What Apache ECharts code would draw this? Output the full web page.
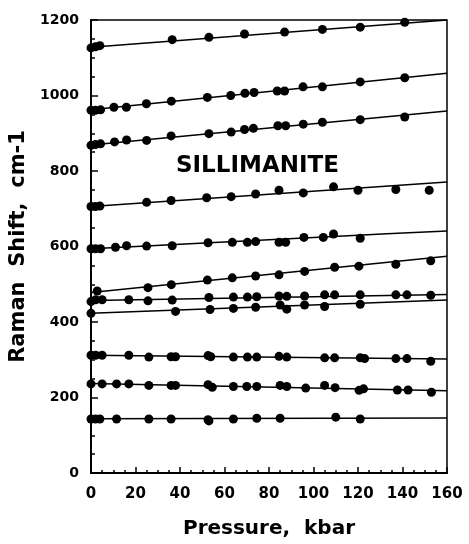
<!DOCTYPE html>
<html>
<head>
<meta charset="utf-8">
<script src="https://cdn.jsdelivr.net/npm/echarts@6/dist/echarts.min.js"></script>
<style>
  html, body { margin: 0; padding: 0; background: #fff; }
  #chart { width: 469px; height: 544px; }
</style>
</head>
<body>
<div id="chart"></div>
<script>
// measured points [pressure kbar, shift cm-1] and fitted curves for each band
const pts1128 = [[0,1126],[2,1129],[4,1132],[36.5,1148],[53,1154],[69,1163],[87,1168],[104,1175],[121,1181],[141,1194]];
const fit1128 = [[0,1128],[160,1200]];

const pts961 = [[0,961],[2,961],[4.3,962],[10.3,969],[15.9,969],[24.9,978],[36.1,985],[52.3,995],[62.8,1000],[69.2,1006],[73.3,1008],[83.7,1012],[87,1012],[95.3,1023],[104,1023],[121,1036],[141,1047]];
const fit961 = [[0,962],[160,1059]];

const pts868 = [[0,868],[2,870],[4.3,872],[10.6,877],[16,882],[25,881],[36,893],[53,899],[63,903],[69,910],[73,913],[84,920],[87.5,920],[95.4,924],[104,929],[121,936],[141,943]];
const fit868 = [[0,869],[160,959]];

const pts708 = [[0,706],[2,706],[4,707],[25,717],[36,722],[52,729],[63,732],[74,739],[84.5,749],[95.4,742],[109,758],[120,749],[137,751],[152,749]];
const fit708 = [[0,706],[160,771]];

const pts593 = [[0,594],[2,594],[4.3,594],[11,598],[16,602],[25,601],[36.5,602],[52.6,610],[63.5,611],[70.3,611],[74,613],[84.5,611],[87.5,611],[95.7,624],[104.4,624],[109,633],[121,622]];
const fit593 = [[0,594],[40,606],[80,618],[120,630],[160,641]];

const pts480 = [[2.8,482],[25.6,491],[36.1,499],[52.3,511],[63.5,517],[74,522],[84.5,525],[96,534],[109.5,545],[120.4,548],[137,553],[152.7,562]];
const fit480 = [[0,478],[160,574]];

const pts456 = [[0,454],[2.1,459],[5,459],[17,459],[25.6,456],[36.5,458],[53,465],[64,466],[70.3,466],[74.5,467],[84.5,469],[88,468],[96,469],[105,472],[109.5,472],[121,472],[137,472],[142,472],[152.7,471]];
const fit456 = [[0,457],[160,473]];

const pts422 = [[0,423],[38,428],[53.5,433],[64,436],[74,439],[85,445],[88,434],[96,445],[105,441],[121,447]];
const fit422 = [[0,423],[160,458]];

const pts310 = [[0,312],[2.1,312],[5,312],[17,312],[26,307],[36,308],[38,308],[52.6,311],[53.8,308],[64,307],[70.3,307],[74.5,307],[84.5,309],[88,307],[105,305],[109.5,305],[121,305],[123,303],[137,303],[142,303],[152.7,296]];
const fit310 = [[0,312],[160,302]];

const pts237 = [[0,236],[5,236],[11.5,236],[17,236],[26,232],[36,232],[38,232],[52.6,234],[54.5,227],[64,229],[70,229],[74.5,229],[85,232],[88,229],[96.5,225],[105,232],[109.7,226],[120.5,219],[122.5,223],[137.7,220],[142.5,220],[153,214]];
const fit237 = [[0,237],[160,218]];

const pts144 = [[0,143],[2,143],[4,143],[11.5,143],[26,143],[36,143],[52.6,141],[53,138],[64,143],[74.5,145],[85,145],[110,148],[121,143]];
const fit144 = [[0,144],[160,146]];

const bands = [
  [pts1128, fit1128], [pts961, fit961], [pts868, fit868], [pts708, fit708],
  [pts593, fit593], [pts480, fit480], [pts456, fit456], [pts422, fit422],
  [pts310, fit310], [pts237, fit237], [pts144, fit144]
];

const series = [];
bands.forEach(([pts, fit]) => {
  series.push({
    type: 'line', data: fit, showSymbol: false, smooth: fit.length > 2 ? 0.4 : false,
    lineStyle: { color: '#000', width: 1.5 }, silent: true, z: 2
  });
  series.push({
    type: 'scatter', data: pts, symbol: 'circle', symbolSize: 9,
    itemStyle: { color: '#000', opacity: 1 }, z: 3
  });
});

const font = 'DejaVu Sans';
const chart = echarts.init(document.getElementById('chart'), null, { renderer: 'canvas' });

chart.setOption({
  animation: false,
  backgroundColor: '#fff',
  grid: { left: 91, top: 20, width: 356, height: 464, show: true, borderColor: '#000', borderWidth: 1.5 },
  xAxis: {
    type: 'value', min: 0, max: 160, interval: 20,
    axisLine: { lineStyle: { color: '#000', width: 2 } },
    axisTick: { inside: true, length: 6, lineStyle: { color: '#000', width: 1.5 } },
    minorTick: { show: true, splitNumber: 4, length: 3, lineStyle: { color: '#000', width: 1.5 } },
    splitLine: { show: false },
    axisLabel: { color: '#000', fontFamily: font, fontWeight: 'bold', fontSize: 15, margin: 14 },
    name: 'Pressure,  kbar', nameLocation: 'middle', nameGap: 46,
    nameTextStyle: { color: '#000', fontFamily: font, fontWeight: 'bold', fontSize: 20 }
  },
  yAxis: {
    type: 'value', min: 0, max: 1200, interval: 200,
    axisLine: { lineStyle: { color: '#000', width: 2 } },
    axisTick: { inside: true, length: 7, lineStyle: { color: '#000', width: 1.5 } },
    minorTick: { show: true, splitNumber: 4, length: 4, lineStyle: { color: '#000', width: 1.5 } },
    splitLine: { show: false },
    axisLabel: { color: '#000', fontFamily: font, fontWeight: 'bold', fontSize: 14, margin: 12, formatter: v => String(v) },
    name: 'Raman  Shift,  cm-1', nameLocation: 'middle', nameGap: 50,
    nameTextStyle: { color: '#000', fontFamily: font, fontWeight: 'bold', fontSize: 21 }
  },
  graphic: [{
    type: 'text', left: 176, top: 155,
    style: { text: 'SILLIMANITE', fill: '#000', font: 'bold 23px "DejaVu Sans"' }
  }],
  series: series
});
</script>
</body>
</html>
